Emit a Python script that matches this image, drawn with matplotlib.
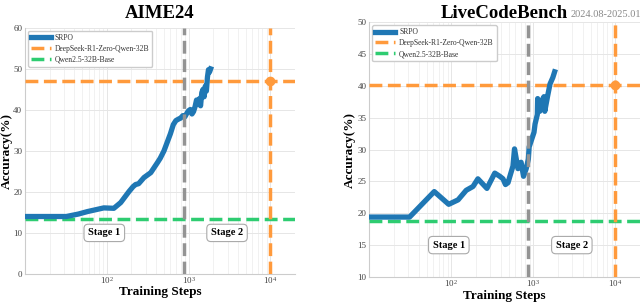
import matplotlib.pyplot as plt
import numpy as np

plt.rcParams['font.family'] = ['Liberation Serif', 'DejaVu Serif']
plt.rcParams['mathtext.fontset'] = 'dejavusans'

# AIME24 curve (SRPO)
aime_steps = [10, 20, 32, 45, 58, 75, 92, 122, 148, 170, 187, 210, 225, 245, 285, 345, 415, 450, 500,
              550, 600, 650, 700, 760, 800, 850, 900, 960, 1000, 1050, 1100, 1150, 1200, 1250,
              1300, 1350, 1400, 1450, 1500, 1550, 1600, 1650, 1700, 1750, 1800, 1860]
aime_acc = [14.0, 14.0, 14.0, 14.6, 15.2, 15.7, 16.1, 16.0, 17.4, 19.0, 20.1, 21.3, 21.8, 22.0, 23.5, 24.7,
            27.1, 28.2, 30.0, 32.2, 34.2, 36.4, 37.4, 37.8, 38.0, 38.6, 38.3, 39.3, 39.8, 40.1, 39.0, 39.6,
            40.8, 42.4, 41.5, 42.7, 41.0, 44.2, 45.0, 43.2, 45.8, 44.6, 48.0, 49.8, 49.2, 50.0]
aime_deepseek = 47.0
aime_base = 13.3

# LiveCodeBench curve (SRPO)
lcb_steps = [10, 20, 31, 62, 93, 121, 152, 184, 211, 272, 339, 390, 427, 458, 492, 524, 565, 590,
             650, 710, 760, 820, 870, 890, 950, 1020, 1050, 1120, 1130, 1200, 1250, 1350, 1380,
             1500, 1600, 1730, 1820]
lcb_acc = [19.4, 19.4, 19.4, 23.4, 21.4, 22.1, 23.6, 24.2, 25.4, 23.9, 26.3, 25.8, 25.4, 24.5, 24.8,
           26.0, 27.4, 30.1, 27.0, 28.0, 25.8, 27.0, 28.5, 30.4, 31.5, 32.7, 34.0, 35.5, 38.0, 36.0,
           37.5, 38.3, 36.0, 38.5, 40.3, 41.3, 42.2]
lcb_deepseek = 40.2
lcb_base = 18.8

stage_split = 870
deepseek_steps = 1e4

blue = '#1f77b4'
orange = '#ff9a3c'
green = '#2ecc71'
gray = '#939393'

fig = plt.figure(figsize=(6.4, 3.03), dpi=100)
ax1 = fig.add_axes([0.039, 0.096, 0.422, 0.812])
ax2 = fig.add_axes([0.577, 0.086, 0.423, 0.841])


def draw(ax, steps, acc, deepseek, base, ylim, yticks, stage_y, ylab_x, xlab_y):
    ax.plot(steps, acc, color=blue, lw=3.8, label='SRPO', zorder=4, solid_joinstyle='round')
    ax.axhline(deepseek, color=orange, lw=2.5, ls='--', label='DeepSeek-R1-Zero-Qwen-32B', zorder=3)
    ax.axhline(base, color=green, lw=2.5, ls='--', label='Qwen2.5-32B-Base', zorder=3)
    ax.axvline(deepseek_steps, color=orange, lw=2.5, ls='--', zorder=3)
    ax.axvline(stage_split, color=gray, lw=2.5, ls='--', zorder=5)
    ax.plot([deepseek_steps], [deepseek], 'o', color=orange, ms=6, zorder=6)
    ax.set_xscale('log')
    ax.set_xlim(10, 2e4)
    ax.set_ylim(*ylim)
    ax.set_yticks(yticks)
    ax.set_xticks([1e2, 1e3, 1e4])
    ax.grid(True, which='major', color='#e6e6e6', lw=0.7)
    ax.grid(True, which='minor', axis='x', color='#efefef', lw=0.6)
    ax.tick_params(axis='y', labelsize=6.5, colors='#444444', length=0, pad=2)
    ax.tick_params(axis='x', labelsize=6.5, colors='#444444', length=0, pad=0.5)
    ax.tick_params(axis='x', which='minor', length=0)
    for s in ['top', 'right']:
        ax.spines[s].set_visible(False)
    for s in ['left', 'bottom']:
        ax.spines[s].set_color('#cccccc')
        ax.spines[s].set_linewidth(0.8)
    ax.set_xlabel('Training Steps', fontsize=9.5, fontweight='bold')
    ax.set_ylabel('Accuracy(%)', fontsize=9.5, fontweight='bold')
    ax.yaxis.set_label_coords(ylab_x, 0.5)
    ax.xaxis.set_label_coords(0.5, xlab_y)
    box = dict(boxstyle='round,pad=0.4', fc='white', ec='#aaaaaa', lw=0.8)
    ax.text(np.sqrt(10 * stage_split), stage_y, 'Stage 1', ha='center', va='center',
            fontsize=7.5, fontweight='bold', bbox=box, zorder=7)
    ax.text(np.sqrt(stage_split * deepseek_steps), stage_y, 'Stage 2', ha='center', va='center',
            fontsize=7.5, fontweight='bold', bbox=box, zorder=7)
    leg = ax.legend(loc='upper left', fontsize=5.5, handlelength=2.6, handletextpad=0.5,
                    borderpad=0.4, labelspacing=0.38, borderaxespad=0.4, fancybox=True,
                    framealpha=1, edgecolor='#cccccc')
    for t in leg.get_texts():
        t.set_color('#333333')
    leg.set_zorder(10)


draw(ax1, aime_steps, aime_acc, aime_deepseek, aime_base, (0, 60), [0, 10, 20, 30, 40, 50, 60], 10,
     -0.045, -0.05)
draw(ax2, lcb_steps, lcb_acc, lcb_deepseek, lcb_base, (10, 50), [10, 15, 20, 25, 30, 35, 40, 45, 50], 15,
     -0.05, -0.05)

fig.text(0.25, 0.955, 'AIME24', ha='center', va='center', fontsize=13.5, fontweight='bold')
fig.text(0.788, 0.955, 'LiveCodeBench', ha='center', va='center', fontsize=13.5, fontweight='bold')
fig.text(0.891, 0.952, '2024.08-2025.01', ha='left', va='center', fontsize=7.5, color='#888888')

fig.savefig('out.png', dpi=100)
